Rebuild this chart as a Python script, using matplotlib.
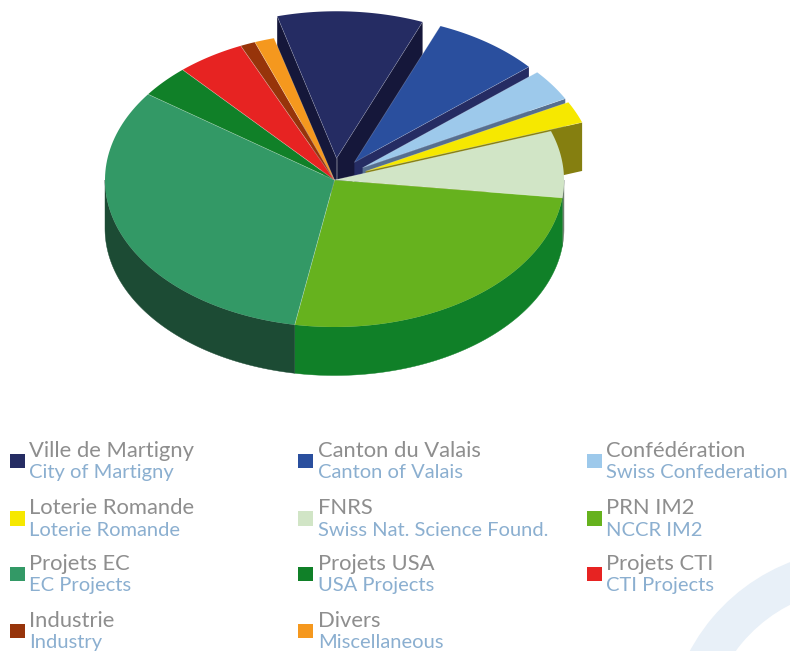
import numpy as np
import matplotlib
matplotlib.use("Agg")
import matplotlib.pyplot as plt
from matplotlib.patches import Rectangle, Wedge

plt.rcParams['font.family'] = ['Lato', 'DejaVu Sans']

# slices, clockwise from the start angle
names_fr = ["Ville de Martigny", "Canton du Valais", "Confédération",
            "Loterie Romande", "FNRS", "PRN IM2",
            "Projets EC", "Projets USA", "Projets CTI",
            "Industrie", "Divers"]
names_en = ["City of Martigny", "Canton of Valais", "Swiss Confederation",
            "Loterie Romande", "Swiss Nat. Science Found.", "NCCR IM2",
            "EC Projects", "USA Projects", "CTI Projects",
            "Industry", "Miscellaneous"]
shares = [10.28, 7.64, 3.47, 2.39, 7.33, 25.83, 32.14, 3.58, 4.81, 1.06, 1.39]
pulled_out = [True, True, True, True, False, False, False, False, False, False, False]

top_colors = ["#252C63", "#2A4F9E", "#9DC9EB", "#F6E800", "#D1E5C6", "#66B21E",
              "#339966", "#108028", "#E72322", "#97340A", "#F5981E"]
side_colors = ["#15173A", "#252C63", "#566F8F", "#857F10", "#6F7F6F", "#108028",
               "#1C4B34", "#0B5A1C", "#A01818", "#6A2407", "#B06E14"]

# pie geometry in pixels
cx, cy = 334.5, 180
rx, ry = 229.5, 147
depth = 48.5
explode = 34
start_angle = 105

fig = plt.figure(figsize=(7.9, 6.51), dpi=100)
ax = fig.add_axes([0, 0, 1, 1])
ax.set_xlim(0, 790)
ax.set_ylim(651, 0)
ax.axis("off")

# background swoosh
ax.add_patch(Wedge((860, 742), 193, 150, 290, width=39, facecolor="#E8F0F8",
                   edgecolor="none", zorder=0))


def rim(a0, a1, ox=0, oy=0, n=80):
    t = np.radians(np.linspace(a0, a1, n))
    return cx + ox + rx * np.cos(t), cy + oy - ry * np.sin(t)


edges = start_angle - np.concatenate([[0], np.cumsum(shares)]) * 3.6


def draw_slice(i):
    a0, a1 = edges[i], edges[i + 1]
    ox, oy = 0, 0
    if pulled_out[i]:
        mid = np.radians((a0 + a1) / 2)
        ox = explode * np.cos(mid)
        oy = -explode * np.sin(mid) * ry / rx
    tx, ty = cx + ox, cy + oy

    # cut faces that look towards the viewer
    if pulled_out[i]:
        for a, normal in [(a0, a0 + 90), (a1, a1 - 90)]:
            if np.sin(np.radians(normal)) < 0:
                ex, ey = rim(a, a, ox, oy, 1)
                ax.fill([tx, ex[0], ex[0], tx], [ty, ey[0], ey[0] + depth, ty + depth],
                        color=side_colors[i], lw=0, zorder=2 + i * 0.01)

    # outer wall, lower half only
    w0, w1 = min(a0, 0), max(a1, -180)
    if w0 > w1:
        wx, wy = rim(w0, w1, ox, oy)
        ax.fill(np.r_[wx, wx[::-1]], np.r_[wy, wy[::-1] + depth],
                color=side_colors[i], lw=0.3, zorder=2 + i * 0.01)

    # top face
    px, py = rim(a0, a1, ox, oy)
    z = 3 + i * 0.01
    ax.fill(np.r_[tx, px], np.r_[ty, py], color=top_colors[i], lw=0, zorder=z)

    # pale seams between the faces
    ax.plot([px[0], tx, px[-1]], [py[0], ty, py[-1]], color="white", lw=0.5,
            alpha=0.25, zorder=z + 0.005)
    if i == 0:
        ax.plot([tx, tx], [ty, ty + depth], color="white", lw=0.5, alpha=0.3, zorder=2.5)


for i in range(len(shares)):
    draw_slice(i)

# legend
col_x = [9.5, 298, 586.5]
row_y = [453.5, 511, 566.5, 623.5]
for i, (fr, en) in enumerate(zip(names_fr, names_en)):
    row, col = i // 3, i % 3
    ax.add_patch(Rectangle((col_x[col], row_y[row]), 15, 14.5, facecolor=top_colors[i],
                           edgecolor="none", zorder=6))
    ax.text(col_x[col] + 19.8, row_y[row] + 3.2, fr, color="#8E8E8E", fontsize=15.8,
            va="baseline", ha="left", zorder=6)
    ax.text(col_x[col] + 19.8, row_y[row] + 24.7, en, color="#8BAFD0", fontsize=14.5,
            va="baseline", ha="left", zorder=6)

fig.savefig("out.png", dpi=100)
